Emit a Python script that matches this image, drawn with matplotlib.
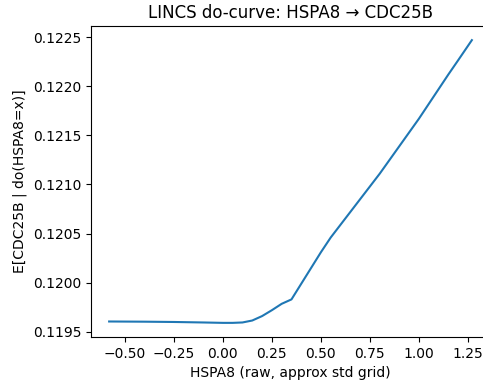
import numpy as np
import matplotlib
matplotlib.use('Agg')
import matplotlib.pyplot as plt

# Valores (grilla aproximada de HSPA8)
hspa8_grid = [-0.58, -0.40, -0.25, -0.10, 0.00, 0.05, 0.10, 0.15, 0.20, 0.25,
              0.30, 0.35, 0.40, 0.45, 0.50, 0.55, 0.60, 0.65, 0.70, 0.75,
              0.80, 0.85, 0.90, 0.95, 1.00, 1.05, 1.10, 1.15, 1.20, 1.27]
cdc25b_esperado = [0.119605, 0.119603, 0.119600, 0.119595, 0.119591, 0.119591,
                   0.119595, 0.119615, 0.119660, 0.119720, 0.119785, 0.119830,
                   0.119990, 0.120150, 0.120310, 0.120460, 0.120590, 0.120720,
                   0.120850, 0.120980, 0.121110, 0.121250, 0.121390, 0.121530,
                   0.121670, 0.121820, 0.121970, 0.122120, 0.122265, 0.122470]

fig = plt.figure(figsize=(4.83, 3.81), dpi=100)
# el original está recortado por la derecha: los ejes salen del lienzo
ax = fig.add_axes([91 / 483, 44 / 381, 399 / 483, 311 / 381])
ax.plot(hspa8_grid, cdc25b_esperado)
ax.set_title('LINCS do-curve: HSPA8 → CDC25B')
ax.set_xlabel('HSPA8 (raw, approx std grid)')
ax.set_ylabel('E[CDC25B | do(HSPA8=x)]')
ax.ticklabel_format(axis='y', useOffset=False)
fig.savefig('out.png', dpi=100)
